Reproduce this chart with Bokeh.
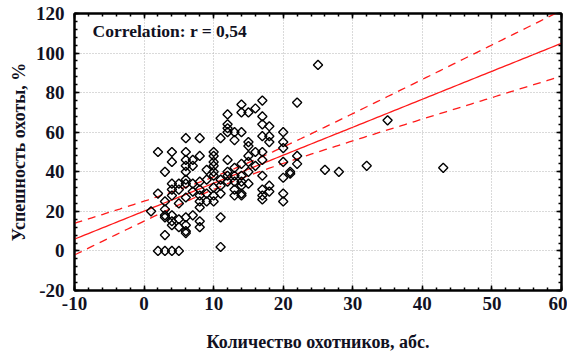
import numpy as np
from bokeh.plotting import figure
from bokeh.models import (LinearAxis, SingleIntervalTicker, Range1d, Label,
                          NumeralTickFormatter)
from bokeh.embed import file_html
from bokeh.resources import INLINE

# data: hunters count (x) vs hunting success % (y)
hunters_by_x = {
    1: [20],
    2: [50, 29, 0],
    3: [40, 25, 21, 18, 17, 8, 0],
    4: [50, 45, 34, 31, 28, 18, 15, 13, 0],
    5: [34, 31, 24, 16, 12, 0],
    6: [57, 50, 46, 43, 40, 36, 34, 27, 17, 13, 10, 9],
    7: [46, 43, 34, 30, 18],
    8: [57, 48, 35, 31, 28, 25, 22, 15, 12],
    9: [41, 36, 29, 25],
    10: [50, 48, 45, 43, 40, 38, 32, 28, 25],
    11: [57, 36, 33, 29, 17, 2],
    12: [69, 64, 62, 60, 46, 40, 38, 35],
    13: [60, 56, 42, 38, 35, 31, 28],
    14: [74, 70, 60, 44, 38, 35, 33, 29, 28],
    15: [70, 55, 53, 48, 45, 40, 34],
    16: [72, 50, 43],
    17: [76, 68, 64, 58, 50, 46, 38, 31, 28, 26],
    18: [63, 58, 55, 33, 30],
    20: [60, 55, 52, 45, 37, 29, 25],
    21: [40, 39],
    22: [75, 48, 44],
    25: [94],
    26: [41],
    28: [40],
    32: [43],
    35: [66],
    43: [42],
}
hunters = []
success = []
for k, vals in hunters_by_x.items():
    for v in vals:
        hunters.append(k)
        success.append(v)
hunters = np.array(hunters, dtype=float)
success = np.array(success, dtype=float)

# fitted line
fit_intercept = 20.1
fit_slope = 1.414
# 95% confidence half-widths of the mean read at x = -10 and x = 60
band_x = [-10, 60]
band_half = [8.0, 16.6]

x_ticks_interval = 10
y_ticks_interval = 20
corr_text = "Correlation: r = 0,54"

# hyperbolic confidence band  h(x)^2 = a + b (x - xm)^2
xm = hunters.mean()
b = (band_half[1] ** 2 - band_half[0] ** 2) / ((band_x[1] - xm) ** 2 - (band_x[0] - xm) ** 2)
a = band_half[0] ** 2 - b * (band_x[0] - xm) ** 2
xs = np.linspace(-10, 60, 141)
yfit = fit_intercept + fit_slope * xs
half = np.sqrt(a + b * (xs - xm) ** 2)

FONT = "Liberation Serif"
TXT = "#111122"

p = figure(width=567, height=354, output_backend="svg", toolbar_location=None,
           x_range=Range1d(-10, 60), y_range=Range1d(-20, 120),
           x_axis_location=None, y_axis_location=None)
p.min_border_left = 74
p.min_border_right = 6
p.min_border_top = 13
p.min_border_bottom = 62
p.outline_line_color = "black"
p.outline_line_width = 2
p.background_fill_color = "white"
p.border_fill_color = "white"

def style_axis(ax, show_labels):
    ax.axis_line_color = "black"
    ax.axis_line_width = 2
    ax.major_tick_in = 5
    ax.major_tick_out = 0
    ax.minor_tick_in = 3
    ax.minor_tick_out = 0
    ax.major_tick_line_color = "black"
    ax.minor_tick_line_color = "black"
    ax.major_tick_line_width = 1.5
    ax.minor_tick_line_width = 1.5
    if show_labels:
        ax.formatter = NumeralTickFormatter(format="0")
        ax.major_label_text_font = FONT
        ax.major_label_text_font_style = "bold"
        ax.major_label_text_font_size = "19px"
        ax.major_label_text_color = TXT
        ax.axis_label_text_font = FONT
        ax.axis_label_text_font_style = "bold"
        ax.axis_label_text_font_size = "18px"
        ax.axis_label_text_color = TXT
    else:
        ax.major_label_text_font_size = "0px"
        ax.major_label_standoff = 0

xt = SingleIntervalTicker(interval=x_ticks_interval, num_minor_ticks=5)
yt = SingleIntervalTicker(interval=y_ticks_interval, num_minor_ticks=5)

bx = LinearAxis(ticker=xt, axis_label="Количество охотников, абс.")
style_axis(bx, True)
bx.major_label_standoff = 6
bx.axis_label_standoff = 19
p.add_layout(bx, "below")
ly = LinearAxis(ticker=yt, axis_label="Успешность охоты, %")
style_axis(ly, True)
ly.major_label_standoff = 10
ly.axis_label_standoff = 4
p.add_layout(ly, "left")
tx = LinearAxis(ticker=xt)
style_axis(tx, False)
p.add_layout(tx, "above")
ry = LinearAxis(ticker=yt)
style_axis(ry, False)
p.add_layout(ry, "right")

p.xgrid.ticker = xt
p.ygrid.ticker = yt
for g in (p.xgrid, p.ygrid):
    g.grid_line_color = "#b4b4b4"
    g.grid_line_dash = "1 2"
    g.grid_line_width = 1

p.line(xs, yfit, line_color="#ff1a1a", line_width=1.3)
p.line(xs, yfit + half, line_color="#ff1a1a", line_width=1.3, line_dash="8 6")
p.line(xs, yfit - half, line_color="#ff1a1a", line_width=1.3, line_dash="8 6")

p.scatter(hunters, success, marker="square", angle=np.pi / 4, size=6.5,
          fill_color=None, line_color="black", line_width=1.4)

p.add_layout(Label(x=-7.4, y=111, text=corr_text, text_font=FONT,
                   text_font_style="bold", text_font_size="17.5px",
                   text_color=TXT, text_baseline="middle"))

open("out.html", "w").write(file_html(p, INLINE))
